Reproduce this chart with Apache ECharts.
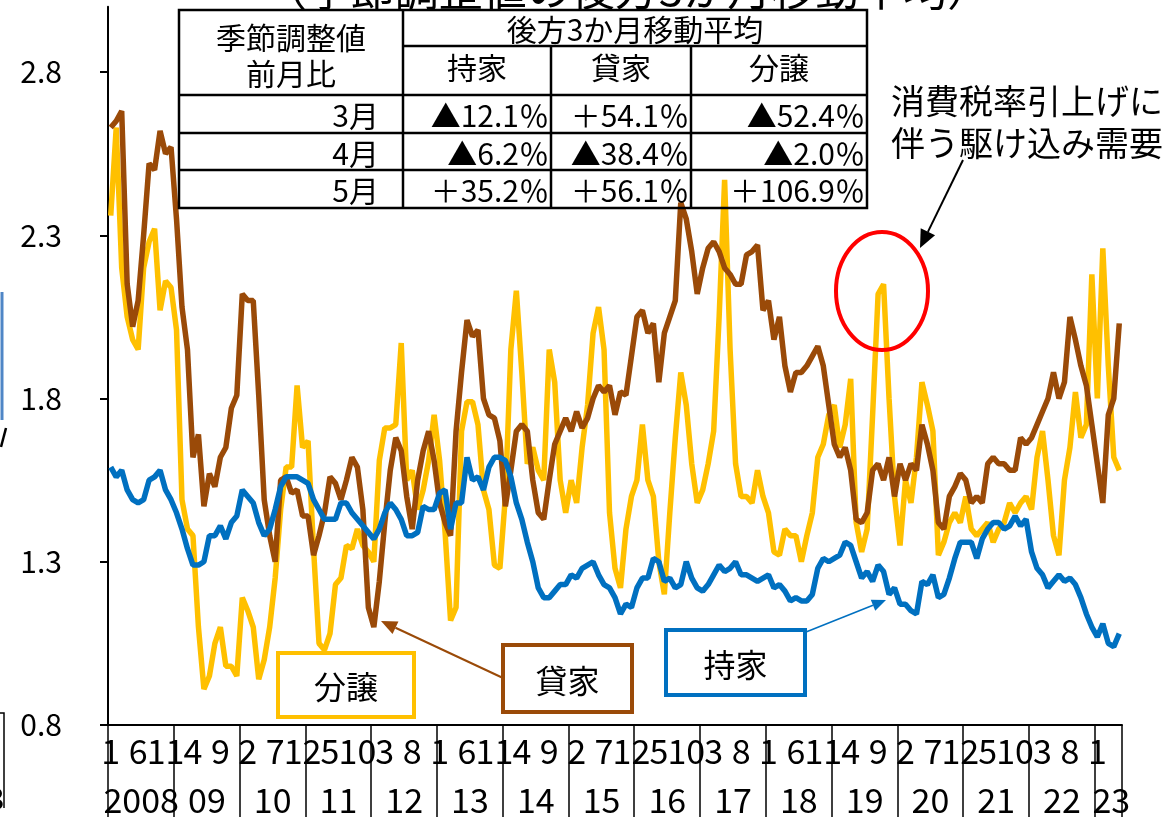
<!DOCTYPE html>
<html>
<head>
<meta charset="utf-8">
<script src="https://cdn.jsdelivr.net/npm/echarts@6/dist/echarts.min.js"></script>
<style>
  body { margin: 0; background: #fff; }
  #chart { width: 1171px; height: 817px; }
</style>
</head>
<body>
<div id="chart"></div>
<script>
// months Jan 2008 .. May 2023
var years = [2008, 2009, 2010, 2011, 2012, 2013, 2014, 2015, 2016, 2017, 2018, 2019, 2020, 2021, 2022, 2023];
var lastMonth2023 = 5;
var yTicks = [0.8, 1.3, 1.8, 2.3, 2.8];

// 持家
var mochiie = [
  1.59,1.56,1.58,1.52,1.49,1.48,1.49,1.55,1.56,1.58,1.52,1.49,
  1.45,1.40,1.34,1.29,1.29,1.30,1.38,1.38,1.41,1.37,1.42,1.44,
  1.52,1.50,1.48,1.42,1.38,1.40,1.46,1.53,1.56,1.56,1.56,1.55,
  1.54,1.49,1.46,1.43,1.43,1.43,1.48,1.48,1.45,1.43,1.41,1.39,
  1.37,1.40,1.45,1.48,1.46,1.43,1.38,1.38,1.39,1.47,1.46,1.46,
  1.51,1.52,1.40,1.48,1.48,1.62,1.55,1.56,1.52,1.59,1.62,1.62,
  1.61,1.56,1.48,1.43,1.36,1.30,1.22,1.19,1.19,1.21,1.23,1.23,
  1.26,1.25,1.28,1.29,1.30,1.26,1.23,1.22,1.19,1.14,1.17,1.16,
  1.22,1.25,1.25,1.31,1.30,1.24,1.25,1.22,1.23,1.30,1.25,1.22,
  1.21,1.23,1.26,1.29,1.27,1.28,1.30,1.26,1.26,1.25,1.24,1.25,
  1.26,1.22,1.23,1.21,1.18,1.19,1.18,1.18,1.20,1.28,1.31,1.30,
  1.31,1.32,1.36,1.35,1.30,1.25,1.27,1.24,1.29,1.27,1.20,1.22,
  1.17,1.17,1.15,1.14,1.24,1.23,1.26,1.19,1.20,1.25,1.31,1.36,
  1.36,1.36,1.31,1.37,1.40,1.42,1.42,1.40,1.41,1.44,1.41,1.43,
  1.33,1.28,1.26,1.22,1.24,1.26,1.24,1.25,1.23,1.19,1.14,1.10,
  1.07,1.11,1.05,1.04,1.08
];

// 貸家
var kashiya = [
  2.63,2.65,2.68,2.15,2.02,2.10,2.30,2.52,2.50,2.62,2.55,2.57,
  2.35,2.08,1.95,1.62,1.69,1.47,1.57,1.53,1.62,1.65,1.77,1.81,
  2.12,2.10,2.10,1.81,1.49,1.38,1.30,1.55,1.56,1.51,1.52,1.44,
  1.44,1.32,1.38,1.45,1.56,1.54,1.49,1.55,1.62,1.59,1.46,1.16,
  1.10,1.24,1.42,1.58,1.68,1.64,1.50,1.40,1.55,1.64,1.70,1.61,
  1.48,1.42,1.38,1.70,1.88,2.04,1.99,2.01,1.80,1.75,1.74,1.67,
  1.47,1.58,1.70,1.72,1.70,1.55,1.45,1.43,1.55,1.66,1.70,1.74,
  1.70,1.76,1.71,1.74,1.80,1.84,1.82,1.84,1.75,1.82,1.81,1.93,
  2.05,2.07,2.00,2.03,1.85,2.00,2.05,2.10,2.40,2.35,2.25,2.12,
  2.20,2.26,2.28,2.25,2.20,2.18,2.15,2.15,2.24,2.25,2.27,2.07,
  2.10,1.98,2.05,1.90,1.82,1.88,1.88,1.90,1.93,1.96,1.90,1.78,
  1.66,1.62,1.65,1.58,1.43,1.42,1.45,1.58,1.60,1.55,1.62,1.50,
  1.60,1.55,1.60,1.58,1.72,1.66,1.58,1.42,1.40,1.50,1.53,1.57,
  1.55,1.48,1.50,1.48,1.60,1.62,1.60,1.60,1.58,1.58,1.68,1.66,
  1.68,1.72,1.76,1.80,1.88,1.80,1.85,2.05,1.98,1.90,1.84,1.72,
  1.60,1.48,1.75,1.80,2.03
];

// 分譲
var bunjo = [
  2.36,2.63,2.20,2.05,1.98,1.95,2.20,2.28,2.32,2.07,2.16,2.14,
  2.01,1.49,1.40,1.38,1.10,0.91,0.95,1.05,1.10,0.98,0.98,0.95,
  1.19,1.15,1.10,0.94,1.00,1.10,1.25,1.46,1.59,1.59,1.84,1.65,
  1.67,1.34,1.05,1.03,1.08,1.23,1.25,1.35,1.34,1.40,1.35,1.33,
  1.30,1.61,1.71,1.71,1.72,1.97,1.55,1.58,1.46,1.52,1.61,1.75,
  1.61,1.39,1.12,1.16,1.70,1.79,1.79,1.72,1.52,1.46,1.29,1.28,
  1.50,1.95,2.13,1.88,1.60,1.65,1.58,1.55,1.95,1.85,1.55,1.45,
  1.55,1.48,1.65,1.78,2.00,2.08,1.95,1.45,1.28,1.22,1.40,1.50,
  1.55,1.72,1.55,1.50,1.30,1.20,1.45,1.68,1.88,1.78,1.60,1.48,
  1.52,1.60,1.70,2.05,2.47,1.95,1.60,1.50,1.50,1.48,1.58,1.50,
  1.45,1.33,1.32,1.40,1.38,1.38,1.30,1.38,1.45,1.62,1.66,1.75,
  1.78,1.65,1.72,1.86,1.42,1.33,1.40,1.75,2.12,2.15,1.80,1.50,
  1.35,1.55,1.48,1.62,1.85,1.78,1.70,1.32,1.36,1.42,1.45,1.42,
  1.50,1.40,1.38,1.40,1.42,1.36,1.40,1.42,1.48,1.45,1.48,1.50,
  1.46,1.62,1.70,1.55,1.38,1.32,1.55,1.65,1.82,1.68,1.72,2.18,
  1.80,2.26,1.90,1.62,1.58
];

// table in the upper left
var tableRows = ['3月', '4月', '5月'];
var tableCols = ['持家', '貸家', '分譲'];
var tableVals = [
  ['▲12.1％', '＋54.1％', '▲52.4％'],
  ['▲6.2％', '▲38.4％', '▲2.0％'],
  ['＋35.2％', '＋56.1％', '＋106.9％']
];

var categories = [];
years.forEach(function (y) {
  for (var m = 1; m <= 12; m++) {
    if (y === 2023 && m > lastMonth2023) break;
    categories.push(y + '/' + m);
  }
});

var FONT = '"Noto Sans CJK JP", "Noto Sans", sans-serif';
var BLUE = '#0070C0', BROWN = '#9A4A08', GOLD = '#FFC000';

function txt(x, y, s, size, align, color) {
  return {
    type: 'text', x: x, y: y, z: 110,
    style: {
      text: s, fill: color || '#000', font: size + 'px ' + FONT,
      textAlign: align || 'center', align: align || 'center',
      textVerticalAlign: 'middle', verticalAlign: 'middle'
    }
  };
}
function ln(x1, y1, x2, y2, color, w) {
  return { type: 'line', z: 110, shape: { x1: x1, y1: y1, x2: x2, y2: y2 }, style: { stroke: color, lineWidth: w } };
}
function arrow(x1, y1, x2, y2, color, w, hl, hw) {
  var dx = x2 - x1, dy = y2 - y1, L = Math.sqrt(dx * dx + dy * dy);
  var ux = dx / L, uy = dy / L;
  var bx = x2 - ux * hl, by = y2 - uy * hl;
  return [
    ln(x1, y1, bx, by, color, w),
    { type: 'polygon', z: 110, shape: { points: [[x2, y2], [bx - uy * hw, by + ux * hw], [bx + uy * hw, by - ux * hw]] }, style: { fill: color } }
  ];
}
function box(x, y, w, h, color, label) {
  return [
    { type: 'rect', z: 105, shape: { x: x, y: y, width: w, height: h }, style: { fill: '#fff', stroke: color, lineWidth: 4 } },
    txt(x + w / 2, y + h / 2 + 2, label, 32)
  ];
}

var graphics = [];
// title (cut off at the top)
graphics.push({
  type: 'text', x: 627, y: 11, z: 110,
  style: { text: '（季節調整値の後方3か月移動平均）', fill: '#000', font: '44px ' + FONT,
    textAlign: 'center', align: 'center', textVerticalAlign: 'bottom', verticalAlign: 'bottom' }
});
// table grid
var colX = [179, 403, 551, 691, 867];
var rowY = [10, 46, 95, 133, 170, 208];
graphics.push({ type: 'rect', z: 110, shape: { x: 179, y: 10, width: 688, height: 198 }, style: { fill: 'none', stroke: '#000', lineWidth: 2.5 } });
graphics.push(ln(403, 46, 867, 46, '#000', 2.5));
[95, 133, 170].forEach(function (y) { graphics.push(ln(179, y, 867, y, '#000', 2.5)); });
graphics.push(ln(403, 10, 403, 208, '#000', 2.5));
graphics.push(ln(551, 46, 551, 208, '#000', 2.5));
graphics.push(ln(691, 46, 691, 208, '#000', 2.5));
graphics.push(txt(291, 38, '季節調整値', 30));
graphics.push(txt(291, 74, '前月比', 30));
graphics.push(txt(635, 30, '後方3か月移動平均', 30));
tableCols.forEach(function (c, j) { graphics.push(txt((colX[j + 1] + colX[j + 2]) / 2, 68, c, 30)); });
tableRows.forEach(function (r, i) {
  var cy = (rowY[i + 2] + rowY[i + 3]) / 2 + 2;
  graphics.push(txt(379, cy, r, 30, 'right'));
  tableVals[i].forEach(function (v, j) { graphics.push(txt(colX[j + 2] - 2, cy, v, 30, 'right')); });
});
// annotation
graphics.push(txt(891, 101, '消費税率引上げに', 34, 'left'));
graphics.push(txt(891, 143, '伴う駆け込み需要', 34, 'left'));
graphics = graphics.concat(arrow(963, 160, 920, 248, '#000', 2, 18, 8));
graphics.push({ type: 'ellipse', z: 110, shape: { cx: 882, cy: 291, rx: 46, ry: 59 }, style: { fill: 'none', stroke: '#FF0000', lineWidth: 4 } });
// series labels
graphics = graphics.concat(box(278, 653, 136, 64, GOLD, '分譲'));
graphics = graphics.concat(box(503, 645, 129, 67, BROWN, '貸家'));
graphics = graphics.concat(box(666, 630, 139, 65, BLUE, '持家'));
graphics = graphics.concat(arrow(503, 678, 381, 621, BROWN, 2, 16, 7));
graphics = graphics.concat(arrow(806, 632, 886, 600, BLUE, 1.5, 14, 6));
// bits of the neighbouring chart at the left edge
graphics.push(ln(2, 292, 2, 420, '#4F86C6', 3));
graphics.push(ln(6, 428, 1, 447, '#000', 2.5));
graphics.push({ type: 'polyline', z: 110, shape: { points: [[0, 713], [4, 713], [4, 808]] }, style: { stroke: '#000', lineWidth: 1.5, fill: 'none' } });
graphics.push(txt(-4, 799, '3', 30));

var chart = echarts.init(document.getElementById('chart'));
chart.setOption({
  animation: false,
  backgroundColor: '#fff',
  grid: { left: 108, right: 49, top: 6.7, bottom: 90 },
  xAxis: [
    {
      type: 'category',
      data: categories,
      boundaryGap: true,
      axisLine: { lineStyle: { color: '#000', width: 2 } },
      axisTick: {
        show: true, length: 92,
        interval: function (idx, v) { return v.split('/')[1] === '1'; },
        lineStyle: { color: '#000', width: 1.5 }
      },
      axisLabel: {
        interval: function (idx) { return idx % 5 === 0; },
        formatter: function (v) { return v.split('/')[1]; },
        color: '#000', fontSize: 34, fontFamily: FONT, margin: 9
      }
    },
    {
      type: 'category',
      data: categories,
      position: 'bottom',
      offset: 48,
      boundaryGap: true,
      axisLine: { show: false },
      axisTick: { show: false },
      axisLabel: {
        interval: function (idx, v) {
          var p = v.split('/');
          return p[0] === '2023' ? p[1] === '4' : p[1] === '7';
        },
        formatter: function (v) {
          var y = v.split('/')[0];
          return y === '2008' ? y : y.slice(2);
        },
        padding: [0, 5, 0, 0],
        color: '#000', fontSize: 34, fontFamily: FONT, margin: 10
      }
    }
  ],
  yAxis: {
    type: 'value',
    min: 0.8, max: 3.0, interval: 0.5,
    splitLine: { show: false },
    axisLine: { show: true, lineStyle: { color: '#000', width: 2 } },
    axisTick: { show: true, length: 8, lineStyle: { color: '#000', width: 2 } },
    axisLabel: {
      showMaxLabel: false,
      formatter: function (v) { return yTicks.indexOf(Math.round(v * 10) / 10) >= 0 ? v.toFixed(1) : ''; },
      color: '#000', fontSize: 30, fontFamily: FONT, margin: 46
    }
  },
  series: [
    { name: '分譲', type: 'line', data: bunjo, symbol: 'none', lineStyle: { color: GOLD, width: 5.5 } },
    { name: '貸家', type: 'line', data: kashiya, symbol: 'none', lineStyle: { color: BROWN, width: 5.5 } },
    { name: '持家', type: 'line', data: mochiie, symbol: 'none', lineStyle: { color: BLUE, width: 5.5 } }
  ],
  graphic: { elements: graphics }
});
</script>
</body>
</html>
